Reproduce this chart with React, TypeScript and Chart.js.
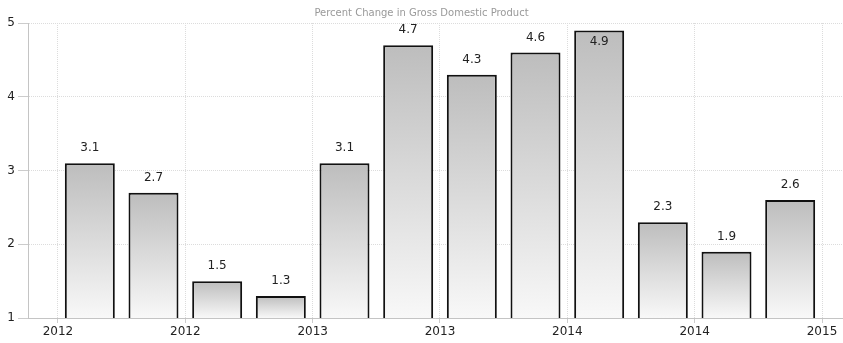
import React, { useEffect, useRef } from "react";
import { Chart, registerables } from "chart.js";

Chart.register(...registerables);

const chartTitle = "Percent Change in Gross Domestic Product";
const quarters = [
  "2012 Q1", "2012 Q2", "2012 Q3", "2012 Q4",
  "2013 Q1", "2013 Q2", "2013 Q3", "2013 Q4",
  "2014 Q1", "2014 Q2", "2014 Q3", "2014 Q4",
];
const gdpChange = [3.1, 2.7, 1.5, 1.3, 3.1, 4.7, 4.3, 4.6, 4.9, 2.3, 1.9, 2.6];
const xTickLabels = ["2012", "2012", "2013", "2013", "2014", "2014", "2015"];
const yTickValues = [1, 2, 3, 4, 5];

const FONT = "'DejaVu Sans', Verdana, sans-serif";

const titlePlugin = {
  id: "customTitle",
  afterDraw(chart: any) {
    const { ctx, width } = chart;
    ctx.save();
    ctx.font = `10px ${FONT}`;
    ctx.fillStyle = "#999999";
    ctx.textAlign = "center";
    ctx.textBaseline = "middle";
    ctx.fillText(chartTitle, width / 2, 13);
    ctx.restore();
  },
};

const valueLabelPlugin = {
  id: "valueLabels",
  afterDatasetsDraw(chart: any) {
    const { ctx, chartArea } = chart;
    const meta = chart.getDatasetMeta(0);
    ctx.save();
    ctx.font = `12px ${FONT}`;
    ctx.fillStyle = "#222222";
    ctx.textAlign = "center";
    ctx.textBaseline = "middle";
    meta.data.forEach((el: any, i: number) => {
      const text = gdpChange[i].toFixed(1);
      let y = el.y - 15;
      if (y - 7 < chartArea.top) y = el.y + 11;
      ctx.fillText(text, el.x, y);
    });
    ctx.restore();
  },
};

export default function App() {
  const ref = useRef<HTMLCanvasElement | null>(null);

  useEffect(() => {
    if (!ref.current) return;
    const chart = new Chart(ref.current, {
      type: "bar",
      data: {
        labels: quarters,
        datasets: [
          {
            label: chartTitle,
            data: gdpChange.map((v, i) => ({ x: i + 0.5, y: v })),
            backgroundColor: (c: any) => {
              const ch = c.chart;
              const ys = ch.scales.y;
              if (!ch.chartArea || !ys || c.raw == null) return "#d0d0d0";
              const top = ys.getPixelForValue(c.raw.y);
              const bottom = ys.getPixelForValue(yTickValues[0]);
              const g = ch.ctx.createLinearGradient(0, top, 0, bottom);
              g.addColorStop(0, "#bdbdbd");
              g.addColorStop(1, "#f8f8f8");
              return g;
            },
            borderColor: "#111111",
            borderWidth: 2,
            barPercentage: 0.785,
            categoryPercentage: 1,
          } as any,
        ],
      },
      options: {
        responsive: false,
        animation: false,
        devicePixelRatio: 1,
        layout: { padding: { top: 23, right: 1, left: 0, bottom: 0 } },
        plugins: {
          legend: { display: false },
          title: { display: false },
          tooltip: { enabled: false },
        },
        scales: {
          x: {
            type: "linear",
            offset: false,
            min: -0.471,
            max: 12.314,
            afterBuildTicks: (s: any) => {
              s.ticks = xTickLabels.map((_, i) => ({ value: i * 2 }));
            },
            afterFit: (s: any) => {
              s.height = 25;
            },
            ticks: {
              autoSkip: false,
              maxRotation: 0,
              padding: 2,
              color: "#222222",
              font: { family: FONT, size: 12 },
              callback: (v: any) => xTickLabels[Math.round(Number(v) / 2)] ?? "",
            },
            grid: {
              offset: false,
              color: "#dcdcdc",
              lineWidth: 1,
              tickLength: 5,
              tickColor: "#cccccc",
              tickBorderDash: [],
            },
            border: { display: true, color: "#c4c4c4", width: 1, dash: [1, 1] },
          },
          y: {
            type: "linear",
            min: yTickValues[0],
            max: yTickValues[yTickValues.length - 1],
            afterBuildTicks: (s: any) => {
              s.ticks = yTickValues.map((v) => ({ value: v }));
            },
            afterFit: (s: any) => {
              s.width = 28;
            },
            ticks: {
              padding: 3,
              color: "#222222",
              font: { family: FONT, size: 12 },
            },
            grid: {
              color: "#dcdcdc",
              lineWidth: 1,
              tickLength: 10,
              tickColor: "#cccccc",
              tickBorderDash: [],
            },
            border: { display: true, color: "#c4c4c4", width: 1, dash: [1, 1] },
          },
        },
      } as any,
      plugins: [titlePlugin, valueLabelPlugin],
    });
    return () => chart.destroy();
  }, []);

  return (
    <div style={{ position: "fixed", left: 0, top: 0, width: 843, height: 343, background: "#ffffff" }}>
      <canvas ref={ref} width={843} height={343} style={{ display: "block" }} />
    </div>
  );
}
